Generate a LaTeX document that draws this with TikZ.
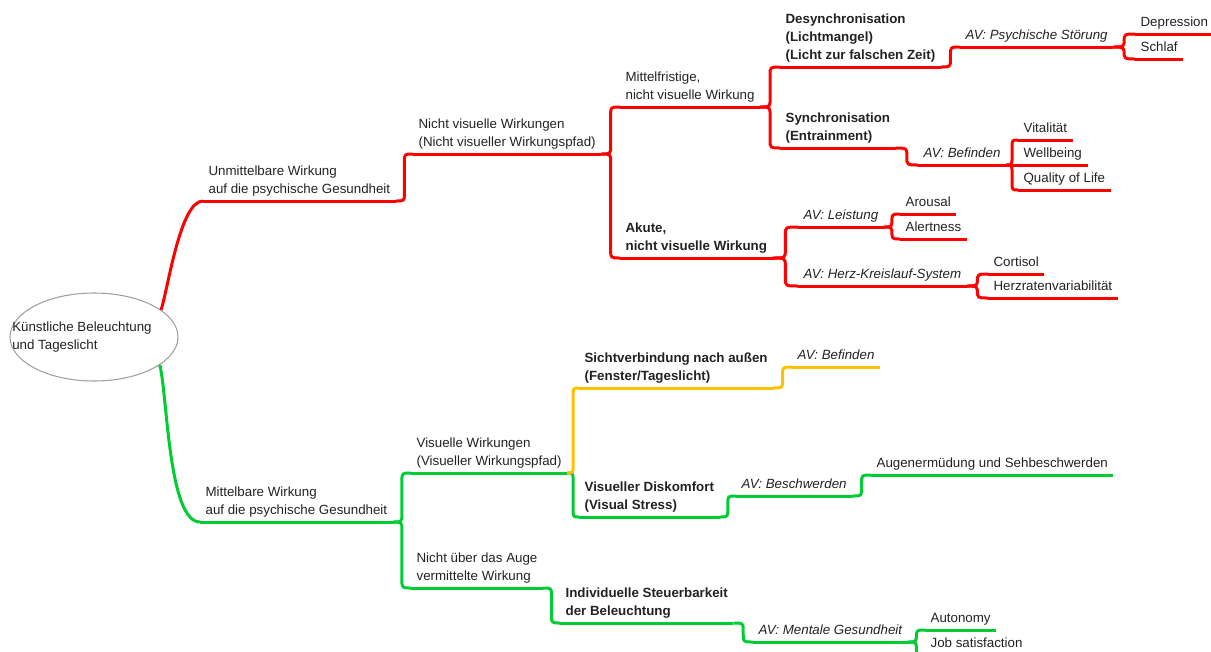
\documentclass[tikz,border=0pt]{standalone}
\usepackage{fontspec}
\setmainfont{Liberation Sans}
\usetikzlibrary{shapes.geometric,calc}
\definecolor{rred}{RGB}{255,0,0}
\definecolor{ggreen}{RGB}{0,204,51}
\definecolor{oorange}{RGB}{255,192,0}
\definecolor{txt}{RGB}{34,34,34}
\definecolor{rim}{RGB}{160,160,160}
\begin{document}
\begin{tikzpicture}[x=0.75pt,y=-0.75pt,line join=round]
	\tikzset{every node/.style={font=\fontsize{10}{13.5}\selectfont,text=txt}}
	\tikzset{twig/.style={anchor=south west,align=left,inner xsep=4pt,inner ysep=3.5pt,text depth=2pt,
			append after command={(\tikzlastnode.south west) edge[draw=#1,line width=2.25pt] (\tikzlastnode.south east)}},
		twig/.default=rred,
		strong/.style={font=\fontsize{10}{13.5}\selectfont\bfseries},
		av/.style={font=\fontsize{10}{13.5}\selectfont\itshape},
		branch/.style={draw=#1,line width=2.25pt,to path={let \p1=(\tikztostart),\p2=(\tikztotarget) in
				.. controls ({(\x1+\x2)/2},\y1) .. ({(\x1+\x2)/2},{\y1+6pt*sign(\y2-\y1)})
				-- ({(\x1+\x2)/2},{\y2-6pt*sign(\y2-\y1)})
				.. controls ({(\x1+\x2)/2},\y2) .. (\p2)}},
		branch/.default=rred}
	\useasboundingbox (0,0) rectangle (1211,651);
	\clip (0,0) rectangle (1211,651);
	% Mitte
	\node[ellipse,draw=rim,line width=0.8pt,minimum width=126pt,minimum height=66pt] (root) at (94,337) {};
	\node[anchor=west,align=left,inner sep=0pt] (rootlabel) at (12,337) {Künstliche Beleuchtung\\und Tageslicht};
	% unmittelbar (rot)
	\node[twig] (unmit) at (203,201) {Unmittelbare Wirkung\\auf die psychische Gesundheit};
	\node[twig] (nichtvis) at (413,154) {Nicht visuelle Wirkungen\\(Nicht visueller Wirkungspfad)};
	\node[twig] (mittel) at (620,107) {Mittelfristige,\\nicht visuelle Wirkung};
	\node[twig,strong] (akut) at (620,258) {Akute,\\nicht visuelle Wirkung};
	\node[twig,strong] (desync) at (780,67) {Desynchronisation\\(Lichtmangel)\\(Licht zur falschen Zeit)};
	\node[twig,strong] (sync) at (780,148) {Synchronisation\\(Entrainment)};
	\node[twig,av] (psych) at (960,47) {AV: Psychische Störung};
	\node[twig] (depr) at (1135,34) {Depression};
	\node[twig] (schlaf) at (1135,59) {Schlaf};
	\node[twig,av] (befind) at (918,165) {AV: Befinden};
	\node[twig] (vital) at (1018,140) {Vitalität};
	\node[twig] (wellb) at (1018,165) {Wellbeing};
	\node[twig] (qual) at (1018,190) {Quality of Life};
	\node[twig,av] (leist) at (798,227) {AV: Leistung};
	\node[twig,av] (herz) at (798,286) {AV: Herz-Kreislauf-System};
	\node[twig] (arous) at (900,214) {Arousal};
	\node[twig] (alert) at (900,239) {Alertness};
	\node[twig] (cort) at (988,274) {Cortisol};
	\node[twig] (hrv) at (988,298) {Herzratenvariabilität};
	% mittelbar (gruen)
	\node[twig=ggreen] (mittelbar) at (200,522) {Mittelbare Wirkung\\auf die psychische Gesundheit};
	\node[twig=ggreen] (visuell) at (411,473) {Visuelle Wirkungen\\(Visueller Wirkungspfad)};
	\node[twig=ggreen] (nichtauge) at (411,588) {Nicht über das Auge\\vermittelte Wirkung};
	\node[twig=oorange,strong] (sicht) at (579,388) {Sichtverbindung nach außen\\(Fenster/Tageslicht)};
	\node[twig=oorange,av] (befind2) at (792,367) {AV: Befinden};
	\node[twig=ggreen,strong] (diskomf) at (579,517) {Visueller Diskomfort\\(Visual Stress)};
	\node[twig=ggreen,av] (beschw) at (736,496) {AV: Beschwerden};
	\node[twig=ggreen] (augen) at (871,475) {Augenermüdung und Sehbeschwerden};
	\node[twig=ggreen,strong] (steuer) at (560,623) {Individuelle Steuerbarkeit\\der Beleuchtung};
	\node[twig=ggreen,av] (mental) at (753,642) {AV: Mentale Gesundheit};
	\node[twig=ggreen] (auton) at (925,630) {Autonomy};
	\node[twig=ggreen] (job) at (925,655) {Job satisfaction};
	% Aeste
	\draw[rred,line width=2.25pt] (root.22) to[out=72,in=180,looseness=0.5] (unmit.south west);
	\draw[ggreen,line width=2.25pt] (root.-23) to[out=-76,in=180,looseness=0.5] (mittelbar.south west);
	\foreach \a/\b in {unmit/nichtvis,nichtvis/mittel,nichtvis/akut,mittel/desync,mittel/sync,desync/psych,
		psych/depr,psych/schlaf,sync/befind,befind/vital,befind/wellb,befind/qual,akut/leist,akut/herz,
		leist/arous,leist/alert,herz/cort,herz/hrv}
	\draw[branch] (\a.south east) to (\b.south west);
	\foreach \a/\b in {mittelbar/visuell,mittelbar/nichtauge,visuell/diskomf,diskomf/beschw,beschw/augen,
		nichtauge/steuer,steuer/mental,mental/auton,mental/job}
	\draw[branch=ggreen] (\a.south east) to (\b.south west);
	\foreach \a/\b in {visuell/sicht,sicht/befind2}
	\draw[branch=oorange] (\a.south east) to (\b.south west);
\end{tikzpicture}
\end{document}
